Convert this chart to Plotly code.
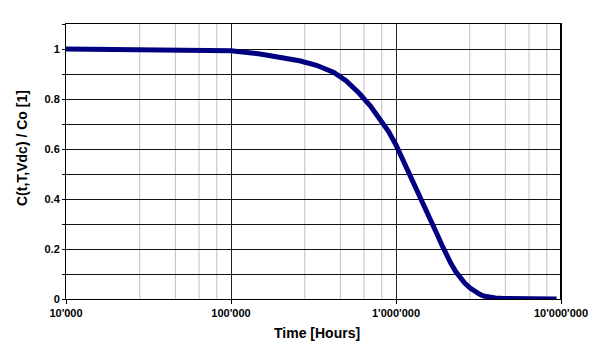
import math
import plotly.graph_objects as go

# Data
time_hours = [1e4, 3e4, 6e4, 1e5, 1.5e5, 2e5, 2.6e5, 3.3e5, 4.2e5, 5e5, 6e5, 7e5, 8e5, 9e5,
              1e6, 1.1e6, 1.2e6, 1.3e6, 1.4e6, 1.5e6, 1.6e6, 1.7e6, 1.8e6, 1.9e6, 2e6, 2.15e6,
              2.3e6, 2.45e6, 2.6e6, 2.8e6, 3e6, 3.2e6, 3.4e6, 3.7e6, 4e6, 4.5e6, 5e6, 7e6, 9.4e6]
c_ratio = [1.0, 0.999, 0.997, 0.993, 0.98, 0.968, 0.953, 0.935, 0.906, 0.872, 0.822, 0.772, 0.722, 0.671,
           0.616, 0.558, 0.505, 0.458, 0.414, 0.372, 0.333, 0.29, 0.25, 0.215, 0.183, 0.143,
           0.11, 0.085, 0.065, 0.045, 0.03, 0.02, 0.012, 0.007, 0.004, 0.002, 0.001, 0.0, 0.0]

x_major_vals = [1e4, 1e5, 1e6, 1e7]
x_major_text = ["10'000", "100'000", "1'000'000", "10'000'000"]
x_minor_mult = [2.8, 4.6, 6.4, 8.2]
y_tick_vals = [0, 0.1, 0.2, 0.3, 0.4, 0.5, 0.6, 0.7, 0.8, 0.9, 1.0, 1.1]
y_tick_text = ["0", "", "0.2", "", "0.4", "", "0.6", "", "0.8", "", "1", ""]

x_minor_vals = [m * d for d in [1e4, 1e5, 1e6] for m in x_minor_mult]
x_log_range = [4, 7]

font_family = "Liberation Sans, Arial, sans-serif"

fig = go.Figure()
fig.add_trace(go.Scatter(
    x=time_hours, y=c_ratio, mode="lines",
    line=dict(color="#000080", width=5),
    hoverinfo="skip", showlegend=False,
))

# light minor gridlines (beneath the main gridlines), positioned from the log scale
minor_shapes = []
for v in x_minor_vals:
    fx = (math.log10(v) - x_log_range[0]) / (x_log_range[1] - x_log_range[0])
    minor_shapes.append(dict(type="line", xref="paper", yref="paper", x0=fx, x1=fx, y0=0, y1=1,
                             layer="below", line=dict(color="#c0c0c0", width=1)))

# page body has an 8px margin, so the figure is shrunk by 8px and margins shifted
fig.update_layout(
    width=597, height=342,
    margin=dict(l=58, r=44, t=16, b=51),
    paper_bgcolor="white", plot_bgcolor="rgba(0,0,0,0)",
    font=dict(family=font_family, size=11, color="black"),
    xaxis=dict(
        type="log", range=x_log_range, automargin=False,
        tickmode="array", tickvals=x_major_vals, ticktext=x_major_text,
        tickfont=dict(family=font_family, size=11, color="black", weight="bold"),
        showgrid=True, gridcolor="#222222", gridwidth=1,
        showline=True, linecolor="black", linewidth=1, mirror=True,
        ticks="outside", ticklen=4, tickcolor="black",
        zeroline=False,
    ),
    yaxis=dict(
        range=[0, 1.1], automargin=False,
        tickmode="array", tickvals=y_tick_vals, ticktext=y_tick_text,
        tickfont=dict(family=font_family, size=11, color="black", weight="bold"),
        showgrid=True, gridcolor="#111111", gridwidth=1,
        showline=True, linecolor="black", linewidth=1, mirror=True,
        ticks="outside", ticklen=3, tickcolor="black",
        zeroline=False,
    ),
    shapes=minor_shapes + [dict(type="line", xref="paper", yref="paper", x0=1, x1=1, y0=0, y1=1,
                                line=dict(color="black", width=2))],
    annotations=[
        dict(text="Time [Hours]", xref="paper", yref="paper", x=(317 - 66) / 495, y=-(333 - 299) / 275,
             xanchor="center", yanchor="middle", showarrow=False,
             font=dict(family=font_family, size=14, color="black", weight="bold")),
        dict(text="C(t,T,Vdc) / Co [1]", xref="paper", yref="paper", x=-(66 - 22) / 495,
             y=(299 - 148) / 275, xanchor="center", yanchor="middle", textangle=-90, showarrow=False,
             font=dict(family=font_family, size=14, color="black", weight="bold")),
    ],
)

fig.write_html("out.html")
